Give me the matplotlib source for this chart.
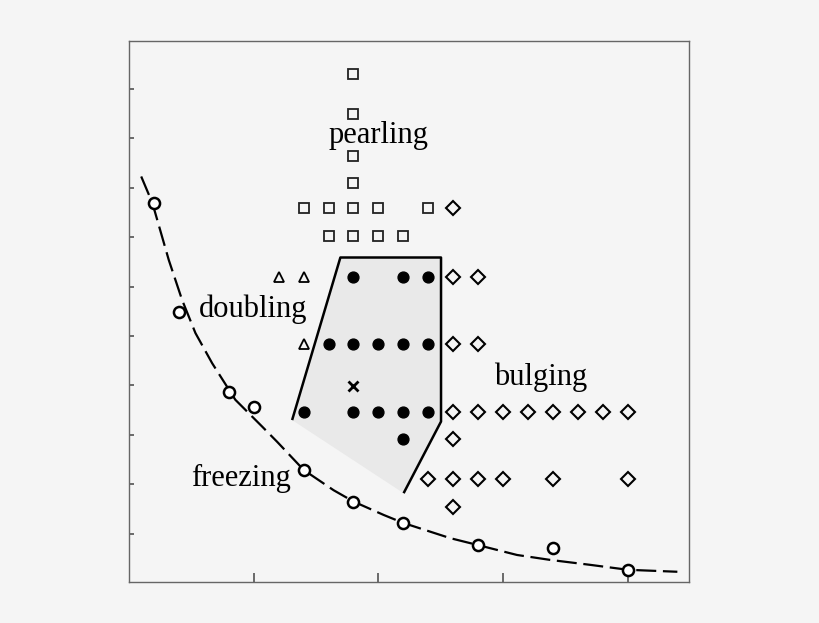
import matplotlib
matplotlib.use("Agg")
import matplotlib.pyplot as plt

# phase diagram: markers (data units)
sq_x = [1.8, 1.8, 1.8, 1.8, 1.4, 1.6, 1.8, 2.0, 2.4, 1.6, 1.8, 2.0, 2.2]
sq_y = [10.30, 9.49, 8.65, 8.10, 7.60, 7.60, 7.60, 7.60, 7.60, 7.03, 7.03, 7.03, 7.03]

dia_x = [2.6, 2.6, 2.8, 2.6, 2.8,
         2.6, 2.8, 3.0, 3.2, 3.4, 3.6, 3.8, 4.0,
         2.6,
         2.4, 2.6, 2.8, 3.0, 3.4, 4.0,
         2.6]
dia_y = [7.60, 6.19, 6.19, 4.83, 4.83,
         3.47, 3.47, 3.47, 3.47, 3.47, 3.47, 3.47, 3.47,
         2.92,
         2.10, 2.10, 2.10, 2.10, 2.10, 2.10,
         1.55]

dot_x = [1.8, 2.2, 2.4, 1.6, 1.8, 2.0, 2.2, 2.4, 1.4, 1.8, 2.0, 2.2, 2.4, 2.2]
dot_y = [6.19, 6.19, 6.19, 4.83, 4.83, 4.83, 4.83, 4.83, 3.47, 3.47, 3.47, 3.47, 3.47, 2.92]

tri_x = [1.2, 1.4, 1.4]
tri_y = [6.19, 6.19, 4.83]

cross_x = [1.8]
cross_y = [3.99]

circ_x = [0.2, 0.4, 0.8, 1.0, 1.4, 1.8, 2.2, 2.8, 3.4, 4.0]
circ_y = [7.69, 5.49, 3.87, 3.57, 2.29, 1.65, 1.22, 0.77, 0.71, 0.26]

# freezing boundary (dashed)
curve_x = [0.098, 0.188, 0.319, 0.426, 0.533, 0.667, 0.853, 1.067, 1.188, 1.401,
           1.641, 1.801, 2.042, 2.197, 2.576, 2.798, 3.111, 3.377, 3.698, 4.0, 4.397]
curve_y = [8.23, 7.69, 6.54, 5.73, 5.06, 4.45, 3.71, 3.17, 2.86, 2.29,
           1.88, 1.65, 1.38, 1.22, 0.91, 0.77, 0.57, 0.47, 0.37, 0.27, 0.23]

# shaded region
region_x = [1.308, 1.695, 2.502, 2.502, 2.202]
region_y = [3.30, 6.59, 6.59, 3.27, 1.82]

labels = ["pearling", "doubling", "bulging", "freezing"]
label_x = [1.596, 0.559, 2.929, 0.498]
label_y = [8.91, 5.39, 4.01, 1.965]

bg = "#f5f5f5"
fig = plt.figure(figsize=(8.2, 6.23), dpi=100, facecolor=bg)
ax = fig.add_axes([0.1573, 0.0663, 0.6835, 0.8684], facecolor=bg)

ax.fill(region_x, region_y, color="#e9e9e9", lw=0, zorder=1)
ax.plot(region_x, region_y, color="k", lw=1.8, solid_joinstyle="round",
        solid_capstyle="butt", zorder=2)

ax.plot(curve_x, curve_y, color="k", lw=1.6, dashes=(9.0, 3.0), zorder=2)

ax.plot(sq_x, sq_y, ls="none", marker="s", ms=7.6, mfc="none", mec="#222222", mew=1.3, zorder=3)
ax.plot(dia_x, dia_y, ls="none", marker="D", ms=7.4, mfc="none", mec="k", mew=1.5, zorder=3)
ax.plot(dot_x, dot_y, ls="none", marker="o", ms=7.8, mfc="k", mec="k", zorder=3)
ax.plot(tri_x, tri_y, ls="none", marker="^", ms=6.5, mfc="none", mec="k", mew=1.3, zorder=3)
ax.plot(cross_x, cross_y, ls="none", marker="x", ms=7, mec="k", mew=2.0, zorder=3)
ax.plot(circ_x, circ_y, ls="none", marker="o", ms=8, mfc="white", mec="k", mew=1.8, zorder=4)

for t, x, y in zip(labels, label_x, label_y):
    ax.text(x, y, t, fontsize=22, family="Liberation Serif", ha="left", va="baseline", zorder=5)

ax.set_xlim(0, 4.494)
ax.set_ylim(0.029, 10.978)
ax.set_xticks([1, 2, 3, 4])
ax.set_yticks(range(1, 11))
ax.set_xticklabels([])
ax.set_yticklabels([])
ax.tick_params(axis="x", direction="in", length=6.5, width=1.1, color="#444444")
ax.tick_params(axis="y", direction="in", length=3.6, width=1.1, color="#444444")
for s in ax.spines.values():
    s.set_color("#666666")
    s.set_linewidth(1.0)

fig.savefig("out.png", dpi=100, facecolor=bg)
